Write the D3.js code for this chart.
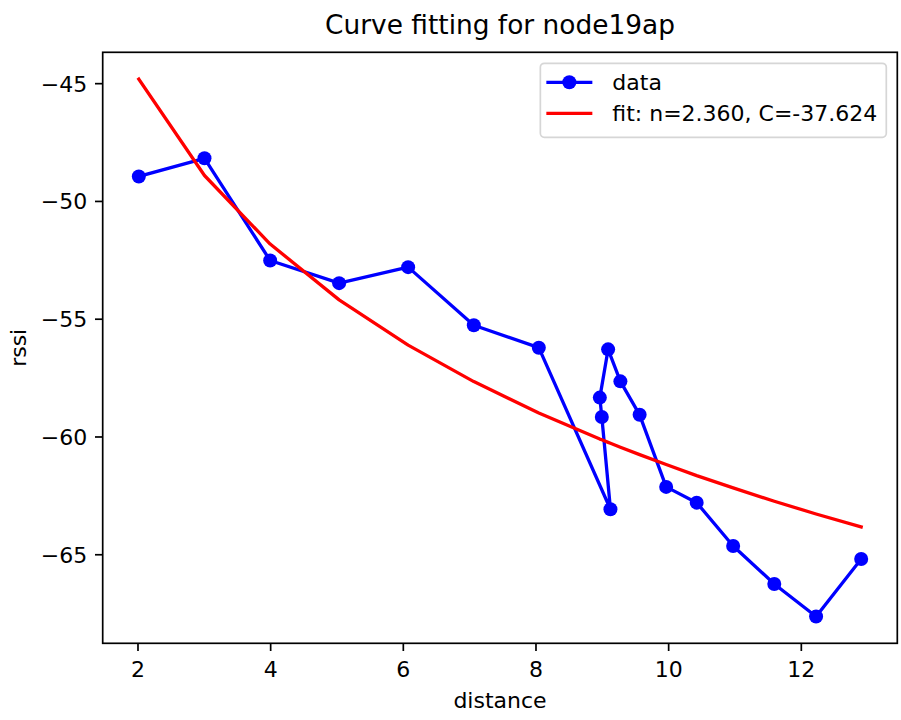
<!DOCTYPE html>
<html>
<head>
<meta charset="utf-8">
<script src="https://cdn.jsdelivr.net/npm/d3@7"></script>
<style>
    body { margin: 0; background: #ffffff; }
    svg text { font-family: "DejaVu Sans", sans-serif; fill: #000; }
</style>
</head>
<body>
<script>
// measured points, in plot order
var distance = [2.02, 3.01, 4.00, 5.04, 6.08, 7.07, 8.05, 9.13, 9.00, 8.97, 9.095, 9.28, 9.57, 9.97, 10.43, 10.98, 11.60, 12.23, 12.91];
var rssi = [-48.96, -48.19, -52.53, -53.49, -52.81, -55.28, -56.23, -63.09, -59.17, -58.35, -56.30, -57.66, -59.08, -62.14, -62.81, -64.65, -66.26, -67.64, -65.20];

// fitted curve, read at the sorted distances
var fitDistance = [2.02, 3.01, 4.00, 5.04, 6.08, 7.07, 8.05, 8.97, 9.00, 9.095, 9.13, 9.28, 9.57, 9.97, 10.43, 10.98, 11.60, 12.23, 12.91];
var fitRssi = [-44.83, -48.92, -51.83, -54.20, -56.12, -57.67, -59.00, -60.11, -60.14, -60.25, -60.29, -60.46, -60.77, -61.19, -61.66, -62.18, -62.75, -63.29, -63.84];

var xTicks = [2, 4, 6, 8, 10, 12];
var yTicks = [-65, -60, -55, -50, -45];
var legendLabels = ["data", "fit: n=2.360, C=-37.624"];

function init() {
    var w = 901;
    var h = 720;
    var left = 102.7, right = 897.3, top = 52.3, bottom = 643.3;

    var svg = d3.select("body")
        .append("svg")
        .attr("width", w)
        .attr("height", h);

    // matplotlib style 5% margins
    var xmin = d3.min(fitDistance.concat(distance)), xmax = d3.max(fitDistance.concat(distance));
    var ymin = d3.min(fitRssi.concat(rssi)), ymax = d3.max(fitRssi.concat(rssi));
    var xpad = (xmax - xmin) * 0.05, ypad = (ymax - ymin) * 0.05;

    var x = d3.scaleLinear()
        .domain([xmin - xpad, xmax + xpad])
        .range([left, right]);
    var y = d3.scaleLinear()
        .domain([ymin - ypad, ymax + ypad])
        .range([bottom, top]);

    var fmt = function (d) { return String(d).replace("-", "\u2212"); };

    var xAxis = svg.append("g")
        .attr("transform", "translate(0," + bottom + ")")
        .call(d3.axisBottom(x).tickValues(xTicks).tickFormat(fmt).tickSize(7.7).tickPadding(5));
    var yAxis = svg.append("g")
        .attr("transform", "translate(" + left + ",0)")
        .call(d3.axisLeft(y).tickValues(yTicks).tickFormat(fmt).tickSize(7.7).tickPadding(7.7));

    [xAxis, yAxis].forEach(function (g) {
        g.select(".domain").remove();
        g.selectAll(".tick line").attr("stroke", "#000").attr("stroke-width", 1.7);
        g.selectAll(".tick text")
            .style("font-size", "22px")
            .attr("fill", "#000");
    });
    xAxis.selectAll(".tick text").attr("dy", null).attr("y", 33.7);
    yAxis.selectAll(".tick text").attr("dy", "0.36em");

    var clip = svg.append("clipPath").attr("id", "clip")
        .append("rect")
        .attr("x", left).attr("y", top)
        .attr("width", right - left).attr("height", bottom - top);

    var plot = svg.append("g").attr("clip-path", "url(#clip)");

    var dataLine = d3.line()
        .x(function (d, i) { return x(distance[i]); })
        .y(function (d) { return y(d); });
    var fitLine = d3.line()
        .x(function (d, i) { return x(fitDistance[i]); })
        .y(function (d) { return y(d); });

    plot.append("path")
        .attr("d", dataLine(rssi))
        .attr("fill", "none")
        .attr("stroke", "#0000ff")
        .attr("stroke-width", 3.3)
        .attr("stroke-linejoin", "round")
        .attr("stroke-linecap", "square");

    plot.selectAll("circle")
        .data(rssi)
        .enter()
        .append("circle")
        .attr("cx", function (d, i) { return x(distance[i]); })
        .attr("cy", function (d) { return y(d); })
        .attr("r", 7)
        .attr("fill", "#0000ff");

    plot.append("path")
        .attr("d", fitLine(fitRssi))
        .attr("fill", "none")
        .attr("stroke", "#ff0000")
        .attr("stroke-width", 3.3)
        .attr("stroke-linejoin", "round")
        .attr("stroke-linecap", "square");

    // frame
    svg.append("rect")
        .attr("x", left).attr("y", top)
        .attr("width", right - left).attr("height", bottom - top)
        .attr("fill", "none")
        .attr("stroke", "#000")
        .attr("stroke-width", 1.7);

    // legend
    var legend = svg.append("g");
    var box = legend.append("rect")
        .attr("rx", 4).attr("ry", 4)
        .attr("fill", "#fff")
        .attr("fill-opacity", 0.8)
        .attr("stroke", "#d6d6d6")
        .attr("stroke-width", 1.7);

    var labels = legend.selectAll("text")
        .data(legendLabels)
        .enter()
        .append("text")
        .style("font-size", "22px")
        .text(function (d) { return d; });

    var textW = d3.max(labels.nodes(), function (n) { return n.getComputedTextLength(); });
    var boxW = 8 + 46 + 18 + textW + 9;
    var boxH = 74;
    var bx = right - 11 - boxW, by = top + 11;
    box.attr("x", bx).attr("y", by).attr("width", boxW).attr("height", boxH);

    var rowY = [by + 19, by + 50];
    labels.attr("x", bx + 8 + 46 + 18)
        .attr("y", function (d, i) { return rowY[i]; })
        .attr("dy", "0.36em");

    legend.append("line")
        .attr("x1", bx + 6).attr("x2", bx + 52)
        .attr("y1", rowY[0]).attr("y2", rowY[0])
        .attr("stroke", "#0000ff").attr("stroke-width", 3.3);
    legend.append("circle")
        .attr("cx", bx + 29).attr("cy", rowY[0]).attr("r", 7)
        .attr("fill", "#0000ff");
    legend.append("line")
        .attr("x1", bx + 6).attr("x2", bx + 52)
        .attr("y1", rowY[1]).attr("y2", rowY[1])
        .attr("stroke", "#ff0000").attr("stroke-width", 3.3);

    // titles
    svg.append("text")
        .attr("x", (left + right) / 2)
        .attr("y", 34)
        .attr("text-anchor", "middle")
        .style("font-size", "26.4px")
        .text("Curve fitting for node19ap");

    svg.append("text")
        .attr("x", (left + right) / 2)
        .attr("y", 708)
        .attr("text-anchor", "middle")
        .style("font-size", "22px")
        .text("distance");

    svg.append("text")
        .attr("transform", "translate(26," + (top + bottom) / 2 + ") rotate(-90)")
        .attr("text-anchor", "middle")
        .style("font-size", "22px")
        .text("rssi");
}

window.onload = init;
</script>
</body>
</html>
